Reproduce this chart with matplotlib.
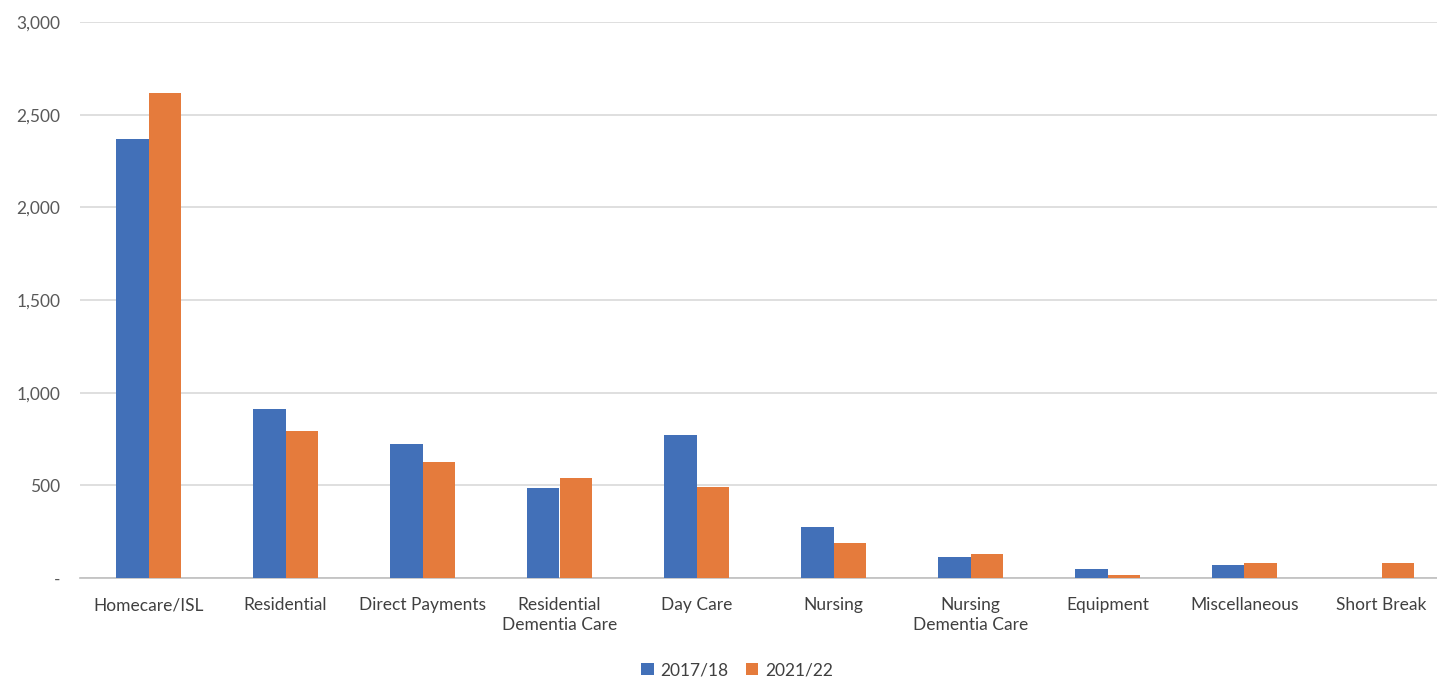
import numpy as np
import matplotlib.pyplot as plt
from matplotlib.ticker import FuncFormatter

categories = ["Homecare/ISL", "Residential", "Direct Payments", "Residential\nDementia Care",
              "Day Care", "Nursing", "Nursing\nDementia Care", "Equipment",
              "Miscellaneous", "Short Break"]
vals_1718 = [2370, 912, 723, 486, 772, 275, 113, 49, 70, 0]
vals_2122 = [2615, 793, 626, 540, 491, 189, 130, 16, 81, 81]
series_names = ["2017/18", "2021/22"]

plt.rcParams['font.family'] = ['Lato', 'DejaVu Sans']

fig = plt.figure(figsize=(14.37, 6.79), dpi=100)
ax = fig.add_axes([80 / 1437, 1 - 578 / 679, 1370 / 1437, 556 / 679])

x = np.arange(len(categories))
w = 0.24
ax.bar(x - w / 2, vals_1718, w, color="#4270b8", label=series_names[0], zorder=3)
ax.bar(x + w / 2, vals_2122, w, color="#e57b3c", label=series_names[1], zorder=3)

ax.set_xlim(-0.5, len(categories) - 0.5)
ax.set_ylim(0, 3000)
ax.set_yticks(np.arange(0, 3001, 500))
ax.yaxis.set_major_formatter(FuncFormatter(lambda v, p: "-" if v == 0 else f"{int(v):,}"))
ax.set_xticks(x)
ax.set_xticklabels(categories, fontsize=12.5, color="#404040", linespacing=1.3)
ax.tick_params(axis="y", length=0, labelsize=12.5, labelcolor="#595959", pad=14)
ax.tick_params(axis="x", length=0, pad=14)
ax.grid(axis="y", color="#d9d9d9", linewidth=1.2, zorder=0)
for s in ["top", "right", "left"]:
    ax.spines[s].set_visible(False)
ax.spines["bottom"].set_color("#bfbfbf")
ax.spines["bottom"].set_linewidth(1.2)

fig.legend(loc="center", bbox_to_anchor=(0.513, 1 - 670 / 679), ncol=2, frameon=False,
           fontsize=12.5, handlelength=0.7, handleheight=0.7, handletextpad=0.4,
           columnspacing=1.0, labelcolor="#404040")

fig.savefig("out.png", dpi=100)
